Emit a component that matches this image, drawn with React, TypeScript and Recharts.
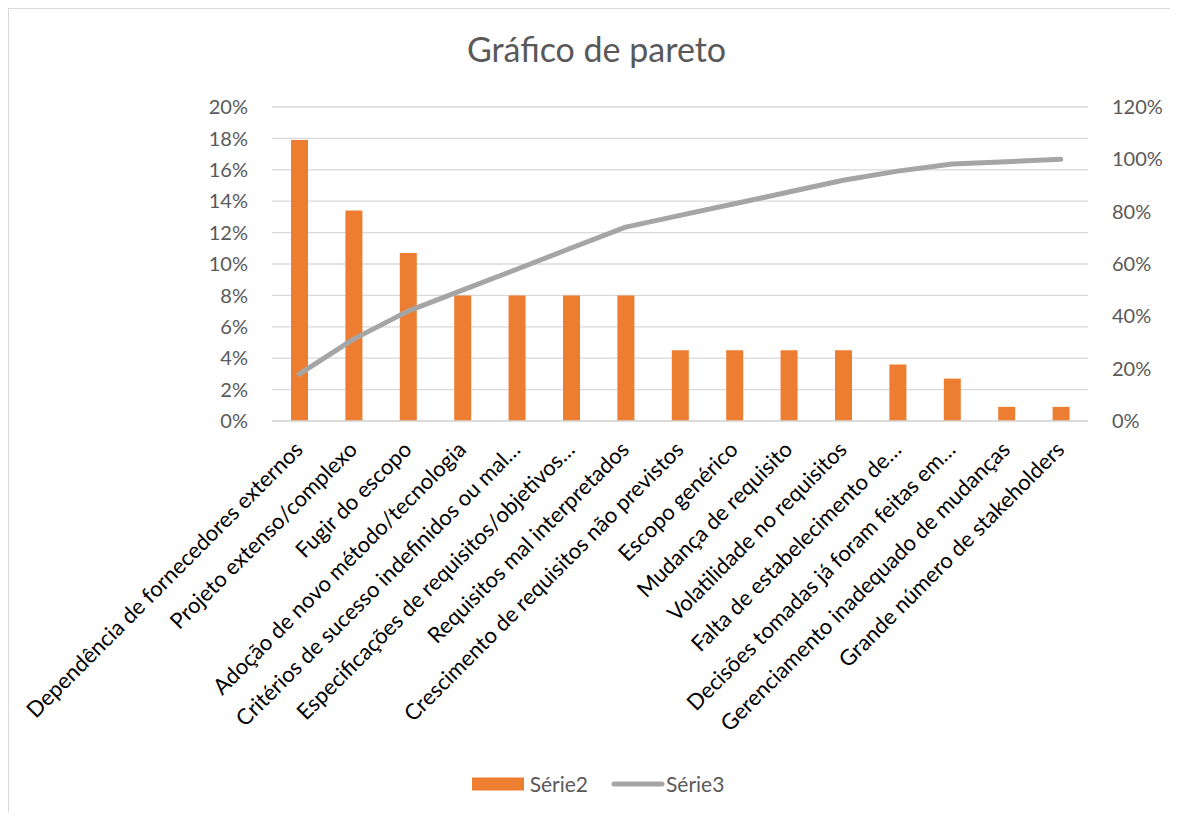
import React from 'react';
import { ComposedChart, Bar, Line, XAxis, YAxis, CartesianGrid, Legend } from 'recharts';

const categories = [
  'Dependência de fornecedores externos',
  'Projeto extenso/complexo',
  'Fugir do escopo',
  'Adoção de novo método/tecnologia',
  'Critérios de sucesso indefinidos ou mal…',
  'Especificações de requisitos/objetivos…',
  'Requisitos mal interpretados',
  'Crescimento de requisitos não previstos',
  'Escopo genérico',
  'Mudança de requisito',
  'Volatilidade no requisitos',
  'Falta de estabelecimento de…',
  'Decisões tomadas já foram feitas em…',
  'Gerenciamento inadequado de mudanças',
  'Grande número de stakeholders',
];

const serie2 = [0.179, 0.134, 0.107, 0.080, 0.080, 0.080, 0.080, 0.045, 0.045, 0.045, 0.045, 0.036, 0.027, 0.009, 0.009];
const serie3 = [0.179, 0.313, 0.420, 0.500, 0.580, 0.661, 0.741, 0.786, 0.830, 0.875, 0.920, 0.955, 0.982, 0.991, 1.0];

const leftTicks = [0, 0.02, 0.04, 0.06, 0.08, 0.1, 0.12, 0.14, 0.16, 0.18, 0.2];
const rightTicks = [0, 0.2, 0.4, 0.6, 0.8, 1.0, 1.2];

const data = categories.map((name, i) => ({ name, s2: serie2[i], s3: serie3[i] }));

const FONT = 'Lato, "Open Sans", sans-serif';
const pct = (v: number) => `${Math.round(v * 100)}%`;

const W = 1169;
const H = 803;

const CatTick = (props: any) => {
  const { x, y, payload } = props;
  const ax = x + 5;
  const ay = y + 30;
  return (
    <text x={ax} y={ay} transform={`rotate(-45, ${ax}, ${ay})`} textAnchor="end" fontSize={22} fill="#000" fontFamily={FONT}>
      {payload.value}
    </text>
  );
};

const LegendContent = (props: any) => {
  const { payload = [] } = props;
  return (
    <div style={{ display: 'flex', justifyContent: 'center', alignItems: 'center', fontFamily: FONT, fontSize: 21, color: '#595959', paddingLeft: 9, boxSizing: 'border-box', width: '100%' }}>
      {payload.map((entry: any, i: number) => (
        <div key={i} style={{ display: 'flex', alignItems: 'center', marginRight: i === 0 ? 23 : 0 }}>
          {entry.type === 'line' ? (
            <svg width={54} height={14} style={{ marginRight: 1 }}>
              <line x1={3} y1={7} x2={51} y2={7} stroke="#A5A5A5" strokeWidth={5} strokeLinecap="round" />
            </svg>
          ) : (
            <svg width={52} height={14} style={{ marginRight: 6 }}>
              <rect x={0} y={0.5} width={52} height={13} fill="#ED7D31" />
            </svg>
          )}
          <span>{entry.value}</span>
        </div>
      ))}
    </div>
  );
};

export default function App() {
  return (
    <div style={{ position: 'relative', width: W, height: H, borderTop: '1px solid #d9d9d9', borderLeft: '1px solid #d9d9d9', fontFamily: FONT, background: '#fff', overflow: 'hidden' }}>
      <div style={{ position: 'absolute', top: 23, left: 0, width: W, boxSizing: 'border-box', textAlign: 'center', fontSize: 34, lineHeight: '34px', color: '#595959', fontFamily: FONT, zIndex: 2, paddingLeft: 6 }}>
        Gráfico de pareto
      </div>
      <ComposedChart width={W} height={H} data={data} margin={{ top: 98, right: 30, bottom: 31, left: 203 }}>
        <CartesianGrid yAxisId="left" vertical={false} stroke="#d9d9d9" strokeWidth={1.3} />
        <XAxis dataKey="name" interval={0} height={330} tickLine={false} tickSize={0} tickMargin={0} axisLine={{ stroke: '#d9d9d9', strokeWidth: 1.3 }} tick={<CatTick />} />
        <YAxis yAxisId="left" domain={[0, 0.2]} ticks={leftTicks} tickFormatter={pct} width={60} axisLine={false} tickLine={false} tickSize={0} tickMargin={24} tick={{ fontSize: 20, fill: '#595959', fontFamily: FONT }} interval={0} />
        <YAxis yAxisId="right" orientation="right" domain={[0, 1.2]} ticks={rightTicks} tickFormatter={pct} width={60} axisLine={false} tickLine={false} tickSize={0} tickMargin={24} tick={{ fontSize: 20, fill: '#595959', fontFamily: FONT }} interval={0} />
        <Bar yAxisId="left" dataKey="s2" name="Série2" fill="#ED7D31" barSize={17} legendType="rect" isAnimationActive={false} />
        <Line yAxisId="right" dataKey="s3" name="Série3" type="linear" stroke="#A5A5A5" strokeWidth={5} strokeLinecap="round" strokeLinejoin="round" dot={false} activeDot={false} legendType="line" isAnimationActive={false} />
        <Legend content={<LegendContent />} verticalAlign="bottom" wrapperStyle={{ position: 'absolute', top: 762, bottom: 'auto', left: 0, width: W, height: 30 }} />
      </ComposedChart>
    </div>
  );
}
